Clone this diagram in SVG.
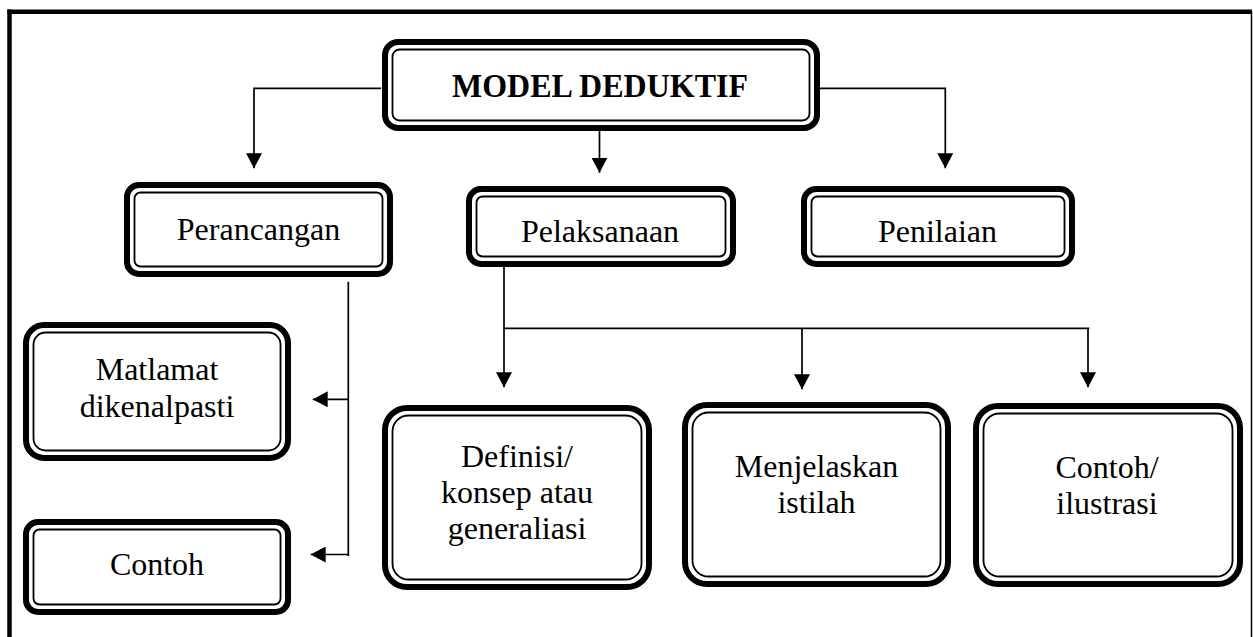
<svg xmlns="http://www.w3.org/2000/svg" width="1253" height="637" viewBox="0 0 1253 637">
<defs>
<style>
.outer{fill:#fff;stroke:#000;stroke-width:6}
.inner{fill:none;stroke:#000;stroke-width:1.8}
.conn{fill:none;stroke:#000;stroke-width:1.7}
.t{font-family:"Liberation Serif","Times New Roman",serif;font-size:32px;fill:#000;text-anchor:middle}
.b{font-weight:bold;font-size:34px}
</style>
<marker id="ah" viewBox="0 0 15 16" refX="15" refY="8" markerWidth="15" markerHeight="16" markerUnits="userSpaceOnUse" orient="auto">
<path d="M0,0 L15,8 L0,16 z" fill="#000"/>
</marker>
</defs>
<rect width="1253" height="637" fill="#fff"/>
<g id="frame">
<line x1="9.5" y1="9.5" x2="9.5" y2="637" stroke="#000" stroke-width="4.5"/>
<line x1="7.5" y1="11.7" x2="1252" y2="11.7" stroke="#000" stroke-width="4.5"/>
<line x1="1251.5" y1="11" x2="1251.5" y2="637" stroke="#000" stroke-width="1.5"/>
</g>
<g id="connectors">
<path class="conn" d="M381,88.3 H254 V168.3" marker-end="url(#ah)"/>
<path class="conn" d="M599.5,131 V172.7" marker-end="url(#ah)"/>
<path class="conn" d="M820,88.3 H945.3 V168.3" marker-end="url(#ah)"/>
<path class="conn" d="M348.3,281.7 V556"/>
<path class="conn" d="M348.3,399.3 H312.7" marker-end="url(#ah)"/>
<path class="conn" d="M348.3,554.5 H310.7" marker-end="url(#ah)"/>
<path class="conn" d="M504,267 V387.3" marker-end="url(#ah)"/>
<path class="conn" d="M504,328.3 H1089.3"/>
<path class="conn" d="M802,328.3 V389.3" marker-end="url(#ah)"/>
<path class="conn" d="M1088,328.3 V387.3" marker-end="url(#ah)"/>
</g>
<g id="model-deduktif">
<rect class="outer" x="385" y="42" width="432" height="86" rx="13"/>
<rect class="inner" x="392.5" y="49.5" width="417" height="71" rx="7"/>
<text class="t b" x="600" y="97" textLength="296" lengthAdjust="spacingAndGlyphs">MODEL DEDUKTIF</text>
</g>
<g id="perancangan">
<rect class="outer" x="127" y="185" width="263" height="89" rx="12"/>
<rect class="inner" x="134.5" y="192.5" width="248" height="74" rx="6"/>
<text class="t" x="258.5" y="239.5">Perancangan</text>
</g>
<g id="pelaksanaan">
<rect class="outer" x="469" y="189" width="264" height="75" rx="12"/>
<rect class="inner" x="476.5" y="196.5" width="249" height="60" rx="6"/>
<text class="t" x="600" y="241.7">Pelaksanaan</text>
</g>
<g id="penilaian">
<rect class="outer" x="804" y="189" width="268" height="75" rx="12"/>
<rect class="inner" x="811.5" y="196.5" width="253" height="60" rx="6"/>
<text class="t" x="937.5" y="241.7">Penilaian</text>
</g>
<g id="matlamat">
<rect class="outer" x="26" y="325" width="262" height="133" rx="18"/>
<rect class="inner" x="33.5" y="332.5" width="247" height="118" rx="12"/>
<text class="t" x="157" y="380">Matlamat</text>
<text class="t" x="157" y="416.7">dikenalpasti</text>
</g>
<g id="contoh">
<rect class="outer" x="26" y="522" width="262" height="90" rx="12"/>
<rect class="inner" x="33.5" y="529.5" width="247" height="75" rx="6"/>
<text class="t" x="157" y="575">Contoh</text>
</g>
<g id="definisi">
<rect class="outer" x="385" y="408" width="264" height="179" rx="22"/>
<rect class="inner" x="392.5" y="415.5" width="249" height="164" rx="16"/>
<text class="t" x="517" y="466.7">Definisi/</text>
<text class="t" x="517" y="502.7">konsep atau</text>
<text class="t" x="517" y="538.5">generaliasi</text>
</g>
<g id="menjelaskan">
<rect class="outer" x="685" y="405" width="263" height="179" rx="22"/>
<rect class="inner" x="692.5" y="412.5" width="248" height="164" rx="16"/>
<text class="t" x="816.5" y="477.3">Menjelaskan</text>
<text class="t" x="816.5" y="513.3">istilah</text>
</g>
<g id="contoh-ilustrasi">
<rect class="outer" x="976" y="406" width="264" height="178" rx="22"/>
<rect class="inner" x="983.5" y="413.5" width="249" height="163" rx="16"/>
<text class="t" x="1107" y="478.3">Contoh/</text>
<text class="t" x="1107" y="514.3">ilustrasi</text>
</g>
</svg>
